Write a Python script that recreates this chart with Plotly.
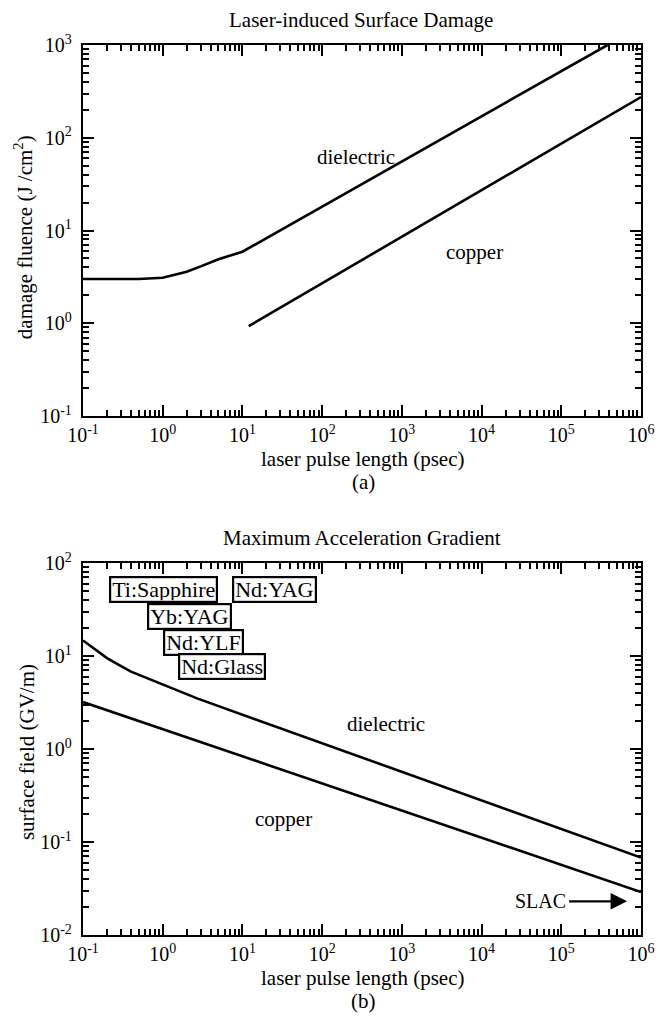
import numpy as np
import plotly.graph_objects as go

# ---------------- data ----------------
# (a) Laser-induced surface damage, fluence (J/cm^2) vs pulse length (ps)
damage_dielectric_x = [0.1, 0.5, 1.0, 2.0, 3.0, 5.0, 10.0, 3.8e5]
damage_dielectric_y = [3.0, 3.0, 3.1, 3.6, 4.1, 4.9, 5.9, 1000.0]
damage_copper_x = [12.0, 1.0e3, 1.0e6]
damage_copper_y = [0.93, 8.5, 275.0]

# (b) Maximum acceleration gradient, surface field (GV/m) vs pulse length (ps)
field_dielectric_x = [0.1, 0.2, 0.3, 0.4, 2.7, 1.0e6]
field_dielectric_y = [14.7, 9.5, 7.8, 6.8, 3.5, 0.068]
field_copper_x = [0.1, 1.0e6]
field_copper_y = [3.2, 0.029]

# SLAC marker (text position and arrow tip, data units)
slac_tail_x, slac_tip_x, slac_y = 1.2e5, 6.7e5, 0.023

laser_names = ["Ti:Sapphire", "Nd:YAG", "Yb:YAG", "Nd:YLF", "Nd:Glass"]

x_tickvals = [0.1, 1, 10, 100, 1e3, 1e4, 1e5, 1e6]
x_ticktext = ["10<sup>-1</sup>", "10<sup>0</sup>", "10<sup>1</sup>", "10<sup>2</sup>",
              "10<sup>3</sup>", "10<sup>4</sup>", "10<sup>5</sup>", "10<sup>6</sup>"]
ya_tickvals = [0.1, 1, 10, 100, 1000]
ya_ticktext = ["10<sup>-1</sup>", "10<sup>0</sup>", "10<sup>1</sup>", "10<sup>2</sup>", "10<sup>3</sup>"]
yb_tickvals = [0.01, 0.1, 1, 10, 100]
yb_ticktext = ["10<sup>-2</sup>", "10<sup>-1</sup>", "10<sup>0</sup>", "10<sup>1</sup>", "10<sup>2</sup>"]


def with_minor(vals, texts):
    """decade ticks plus unlabeled 2..9 sub-decade ticks"""
    mv = [m * v for v in vals[:-1] for m in range(2, 10)]
    return list(vals) + mv, list(texts) + [""] * len(mv)


# ---------------- layout geometry ----------------
# the page body has an 8 px margin, so the figure is drawn 8 px smaller / shifted
OFF = 8
W, H = 667 - OFF, 1035 - OFF
L, R = 83 - OFF, W - (652 - OFF)
TOP_A, BOT_A = 45 - OFF, 416 - OFF
TOP_B, BOT_B = 563 - OFF, 935 - OFF
T, B = TOP_A, H - BOT_B
PW, PH = W - L - R, H - T - B


def px_to_paper(px, py):
    """reference-picture pixels -> paper coordinates"""
    return (px - OFF - L) / PW, (H - B - (py - OFF)) / PH


FONT = "Liberation Serif"
LINE = dict(color="black", width=2.6)

fig = go.Figure()
fig.add_trace(go.Scatter(x=damage_dielectric_x, y=damage_dielectric_y, mode="lines",
                         line=LINE, xaxis="x", yaxis="y", showlegend=False))
fig.add_trace(go.Scatter(x=damage_copper_x, y=damage_copper_y, mode="lines",
                         line=LINE, xaxis="x", yaxis="y", showlegend=False))
fig.add_trace(go.Scatter(x=field_dielectric_x, y=field_dielectric_y, mode="lines",
                         line=LINE, xaxis="x2", yaxis="y2", showlegend=False))
fig.add_trace(go.Scatter(x=field_copper_x, y=field_copper_y, mode="lines",
                         line=LINE, xaxis="x2", yaxis="y2", showlegend=False))
# empty carriers so the overlaid "major tick" axes are drawn
fig.add_trace(go.Scatter(x=[], y=[], xaxis="x3", yaxis="y3", showlegend=False, hoverinfo="skip"))
fig.add_trace(go.Scatter(x=[], y=[], xaxis="x4", yaxis="y4", showlegend=False, hoverinfo="skip"))

top_lo = (H - B - BOT_A) / PH
bot_hi = (H - B - TOP_B) / PH


def log_axis(tickvals, ticktext, standoff, **kw):
    tv, tt = with_minor(tickvals, ticktext)
    return dict(type="log", showline=True, linewidth=2.4, linecolor="black", mirror="allticks",
                tickmode="array", tickvals=tv, ticktext=tt,
                ticks="inside", ticklen=6, tickwidth=2, tickcolor="black",
                showgrid=False, zeroline=False, ticklabelstandoff=standoff,
                tickfont=dict(family=FONT, size=20, color="black"), **kw)


def major_axis(tickvals, **kw):
    return dict(type="log", showline=False, mirror="allticks", tickmode="array",
                tickvals=tickvals, ticks="inside", ticklen=11, tickwidth=2.2, tickcolor="black",
                showticklabels=False, showgrid=False, zeroline=False, **kw)


fig.update_layout(
    width=W, height=H, margin=dict(l=L, r=R, t=T, b=B, pad=0),
    paper_bgcolor="white", plot_bgcolor="white",
    font=dict(family=FONT, size=20, color="black"),
    xaxis=log_axis(x_tickvals, x_ticktext, 0, domain=[0, 1], anchor="y", range=[-1, 6]),
    yaxis=log_axis(ya_tickvals, ya_ticktext, 5, domain=[top_lo, 1], anchor="x", range=[-1, 3]),
    xaxis2=log_axis(x_tickvals, x_ticktext, 0, domain=[0, 1], anchor="y2", range=[-1, 6]),
    yaxis2=log_axis(yb_tickvals, yb_ticktext, 5, domain=[0, bot_hi], anchor="x2", range=[-2, 2]),
    xaxis3=major_axis(x_tickvals, overlaying="x", anchor="y3", side="bottom", range=[-1, 6]),
    yaxis3=major_axis(ya_tickvals, overlaying="y", anchor="x3", side="left", range=[-1, 3]),
    xaxis4=major_axis(x_tickvals, overlaying="x2", anchor="y4", side="bottom", range=[-1, 6]),
    yaxis4=major_axis(yb_tickvals, overlaying="y2", anchor="x4", side="left", range=[-2, 2]),
)

ann = []


def text_at(px, py, text, size=21, **kw):
    x, y = px_to_paper(px, py)
    d = dict(x=x, y=y, xref="paper", yref="paper", text=text, showarrow=False,
             xanchor="center", yanchor="middle",
             font=dict(family=FONT, size=size, color="black"))
    d.update(kw)
    ann.append(d)


# titles and axis labels (reference pixel positions)
text_at(366, 20, "Laser-induced Surface Damage")
text_at(369, 459, "laser pulse length (psec)")
text_at(369, 482, "(a)")
text_at(367, 538, "Maximum Acceleration Gradient")
text_at(369, 978, "laser pulse length (psec)")
text_at(369, 1001, "(b)")
text_at(23, 237, "damage fluence (J /cm<sup>2</sup>)", textangle=-90)
text_at(26, 752, "surface field (GV/m)", textangle=-90)

# curve labels (data coordinates; log axes take log10 values)
for xr, yr, xv, yv, t in [("x", "y", 263, 62, "dielectric"), ("x", "y", 8100, 5.8, "copper"),
                          ("x2", "y2", 630, 1.86, "dielectric"), ("x2", "y2", 33, 0.175, "copper")]:
    ann.append(dict(x=np.log10(xv), y=np.log10(yv), xref=xr, yref=yr, text=t, showarrow=False,
                    xanchor="center", yanchor="middle",
                    font=dict(family=FONT, size=21, color="black")))

# SLAC arrow
ann.append(dict(x=np.log10(slac_tail_x), y=np.log10(slac_y), xref="x2", yref="y2", text="SLAC",
                showarrow=False, xanchor="right", yanchor="middle",
                font=dict(family=FONT, size=20, color="black")))
ann.append(dict(x=np.log10(slac_tip_x), y=np.log10(slac_y), xref="x2", yref="y2",
                ax=np.log10(slac_tail_x), ay=np.log10(slac_y), axref="x2", ayref="y2",
                text="", showarrow=True, arrowhead=2, arrowsize=1.5, arrowwidth=2.2,
                arrowcolor="black", standoff=0, startstandoff=0))

# laser boxes (reference pixel centres)
box_px = [(165, 589), (278, 589), (192, 616), (206, 642), (225, 666)]
for (bx, by), name in zip(box_px, laser_names):
    text_at(bx, by, name, size=22, bordercolor="black", borderwidth=2.2, borderpad=1,
            bgcolor="white", height=21)

fig.update_layout(annotations=ann)
fig.write_html("out.html")
